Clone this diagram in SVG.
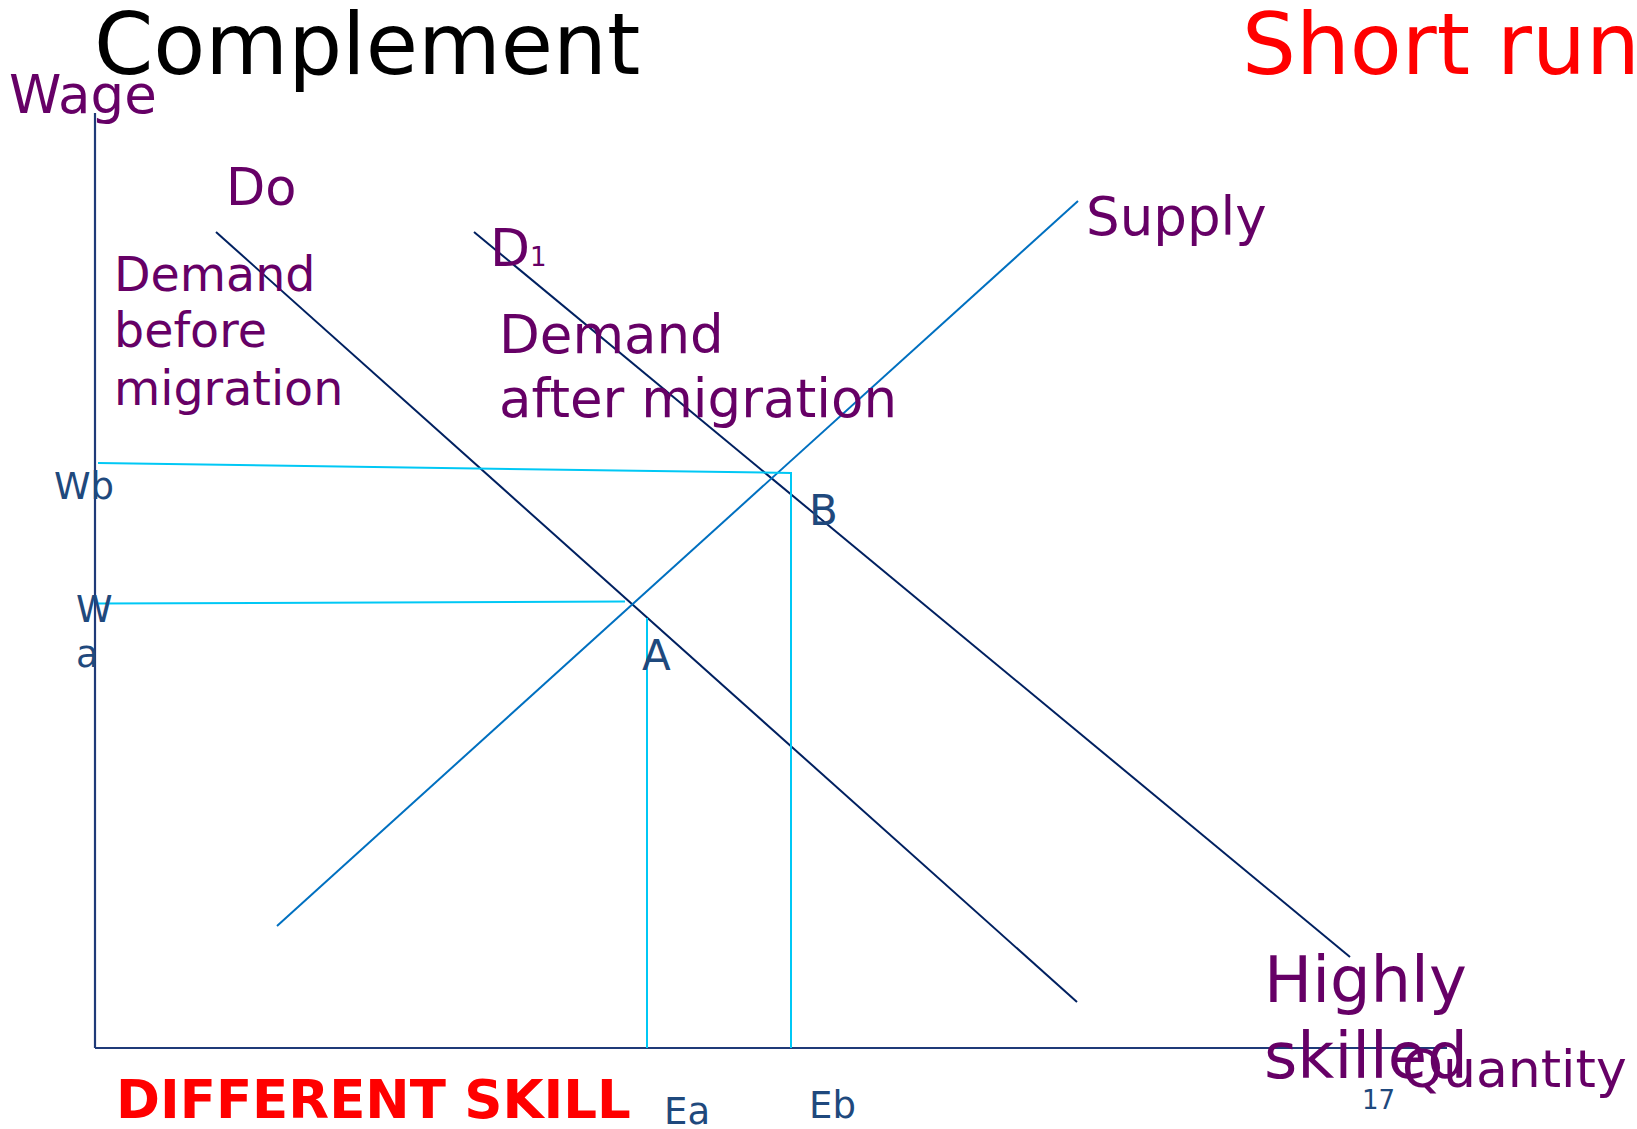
<svg xmlns="http://www.w3.org/2000/svg" width="1637" height="1129" viewBox="0 0 1637 1129">
  <style>
    text { font-family: "DejaVu Sans", "Liberation Sans", sans-serif; }
    .purple { fill: #660066; }
    .blue { fill: #1F497D; }
    .red { fill: #FF0000; }
    .axis { stroke: #1F3A78; stroke-width: 2.2; fill: none; }
    .demand { stroke: #002060; stroke-width: 2; fill: none; }
    .supply { stroke: #0070C0; stroke-width: 2; fill: none; }
    .guide { stroke: #00C8F5; stroke-width: 2; fill: none; }
  </style>
  <rect width="1637" height="1129" fill="#FFFFFF"/>

  <!-- headings -->
  <g id="titles">
    <text x="94" y="74" font-size="85" fill="#000000">Complement</text>
    <text x="1242" y="74" font-size="85" class="red">Short run</text>
  </g>

  <!-- axes -->
  <g id="axes">
    <line class="axis" x1="95" y1="113" x2="95" y2="1048"/>
    <line class="axis" x1="95" y1="1048" x2="1447" y2="1048"/>
    <text x="9" y="113" font-size="53" class="purple">Wage</text>
    <text x="1402" y="1087" font-size="52" class="purple">Quantity</text>
  </g>

  <!-- curves -->
  <g id="connectors">
    <line id="d0" class="demand" x1="216" y1="232" x2="1077" y2="1002"/>
    <line id="d1" class="demand" x1="474" y1="232" x2="1350" y2="957"/>
    <line id="supply" class="supply" x1="277" y1="926" x2="1078" y2="201"/>
    <!-- equilibrium guides -->
    <polyline class="guide" points="98,463 791,473 791,1048"/>
    <line class="guide" x1="98" y1="603.5" x2="625" y2="601.5"/>
    <line class="guide" x1="647" y1="618" x2="647" y2="1048"/>
  </g>

  <!-- curve labels -->
  <g id="label-d0">
    <text x="226" y="205" font-size="51" class="purple">Do</text>
    <text font-size="47.5" class="purple">
      <tspan x="114" y="291">Demand</tspan>
      <tspan x="114" y="347">before</tspan>
      <tspan x="114" y="405">migration</tspan>
    </text>
  </g>
  <g id="label-d1">
    <text x="490" y="266" font-size="52" class="purple">D<tspan font-size="26">1</tspan></text>
    <text font-size="53" class="purple">
      <tspan x="499" y="353">Demand</tspan>
      <tspan x="499" y="417">after migration</tspan>
    </text>
  </g>
  <g id="label-supply">
    <text x="1086" y="235" font-size="53" class="purple">Supply</text>
  </g>

  <!-- equilibrium points and axis values -->
  <g id="point-a">
    <text x="642" y="670" font-size="42" class="blue">A</text>
  </g>
  <g id="point-b">
    <text x="809" y="525" font-size="42" class="blue">B</text>
  </g>
  <g id="wage-values">
    <text x="54" y="499" font-size="37" class="blue">Wb</text>
    <text x="76" y="622" font-size="37" class="blue">W</text>
    <text x="76" y="667" font-size="37" class="blue">a</text>
  </g>
  <g id="quantity-values">
    <text x="664" y="1124" font-size="37" class="blue">Ea</text>
    <text x="809" y="1118" font-size="37" class="blue">Eb</text>
  </g>

  <!-- footer notes -->
  <g id="notes">
    <text x="116" y="1118" font-size="53" font-weight="bold" class="red">DIFFERENT SKILL</text>
    <text font-size="64" class="purple">
      <tspan x="1264" y="1002">Highly</tspan>
      <tspan x="1264" y="1078">skilled</tspan>
    </text>
    <text x="1362" y="1109" font-size="26" class="blue">17</text>
  </g>
</svg>
